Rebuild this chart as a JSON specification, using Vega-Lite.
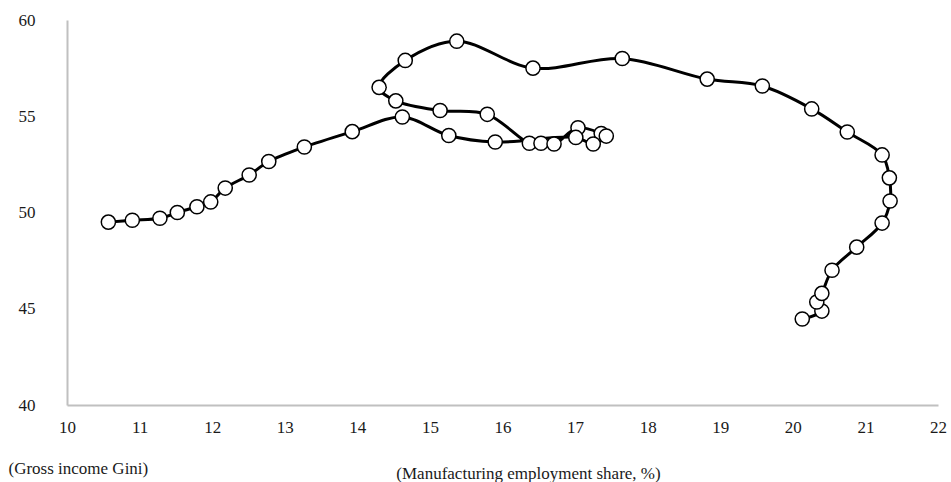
{
  "$schema": "https://vega.github.io/schema/vega-lite/v6.json",
  "autosize": "none",
  "width": 871,
  "height": 385,
  "padding": {"left": 67, "top": 20, "right": 13, "bottom": 77},
  "background": "white",
  "config": {"view": {"stroke": null}, "font": "Liberation Serif"},
  "data": {"values": [
    {"i": 1, "m": 20.13, "g": 44.47},
    {"i": 2, "m": 20.40, "g": 44.88},
    {"i": 3, "m": 20.33, "g": 45.35},
    {"i": 4, "m": 20.40, "g": 45.80},
    {"i": 5, "m": 20.54, "g": 47.00},
    {"i": 6, "m": 20.88, "g": 48.20},
    {"i": 7, "m": 21.23, "g": 49.45},
    {"i": 8, "m": 21.34, "g": 50.60},
    {"i": 9, "m": 21.33, "g": 51.80},
    {"i": 10, "m": 21.23, "g": 52.99},
    {"i": 11, "m": 20.75, "g": 54.18},
    {"i": 12, "m": 20.26, "g": 55.38},
    {"i": 13, "m": 19.58, "g": 56.57},
    {"i": 14, "m": 18.82, "g": 56.93},
    {"i": 15, "m": 17.65, "g": 58.00},
    {"i": 16, "m": 16.42, "g": 57.50},
    {"i": 17, "m": 15.37, "g": 58.90},
    {"i": 18, "m": 14.66, "g": 57.90},
    {"i": 19, "m": 14.30, "g": 56.50},
    {"i": 20, "m": 14.53, "g": 55.80},
    {"i": 21, "m": 15.14, "g": 55.30},
    {"i": 22, "m": 15.79, "g": 55.10},
    {"i": 23, "m": 16.37, "g": 53.60},
    {"i": 24, "m": 16.53, "g": 53.60},
    {"i": 25, "m": 16.71, "g": 53.56},
    {"i": 26, "m": 17.04, "g": 54.40},
    {"i": 27, "m": 17.36, "g": 54.10},
    {"i": 28, "m": 17.43, "g": 53.97},
    {"i": 29, "m": 17.25, "g": 53.56},
    {"i": 30, "m": 17.01, "g": 53.90},
    {"i": 31, "m": 15.90, "g": 53.66},
    {"i": 32, "m": 15.26, "g": 54.00},
    {"i": 33, "m": 14.62, "g": 54.96},
    {"i": 34, "m": 13.93, "g": 54.20},
    {"i": 35, "m": 13.27, "g": 53.40},
    {"i": 36, "m": 12.78, "g": 52.65},
    {"i": 37, "m": 12.51, "g": 51.95},
    {"i": 38, "m": 12.18, "g": 51.27},
    {"i": 39, "m": 11.98, "g": 50.55},
    {"i": 40, "m": 11.79, "g": 50.30},
    {"i": 41, "m": 11.52, "g": 50.00},
    {"i": 42, "m": 11.28, "g": 49.70},
    {"i": 43, "m": 10.90, "g": 49.60},
    {"i": 44, "m": 10.57, "g": 49.50}
  ]},
  "encoding": {
    "x": {
      "field": "m", "type": "quantitative",
      "scale": {"domain": [10, 22], "nice": false, "zero": false},
      "axis": {
        "values": [10, 11, 12, 13, 14, 15, 16, 17, 18, 19, 20, 21, 22],
        "grid": false, "ticks": false,
        "domainColor": "#c0c0c0", "domainWidth": 2,
        "labelFont": "Liberation Serif", "labelFontSize": 17, "labelColor": "#1a1a1a",
        "labelPadding": 14, "labelFlush": false,
        "title": "(Manufacturing employment share, %)",
        "titleFont": "Liberation Serif", "titleFontSize": 17, "titleFontWeight": "normal",
        "titleColor": "#1a1a1a",
        "titleX": 461, "titleY": 68, "titleBaseline": "middle", "titleAlign": "center"
      }
    },
    "y": {
      "field": "g", "type": "quantitative",
      "scale": {"domain": [40, 60], "nice": false, "zero": false},
      "axis": {
        "values": [40, 45, 50, 55, 60],
        "grid": false, "ticks": false,
        "domainColor": "#c0c0c0", "domainWidth": 2,
        "labelFont": "Liberation Serif", "labelFontSize": 17, "labelColor": "#1a1a1a",
        "labelPadding": 32, "labelFlush": false,
        "title": "(Gross income Gini)",
        "titleFont": "Liberation Serif", "titleFontSize": 17, "titleFontWeight": "normal",
        "titleColor": "#1a1a1a", "titleAngle": 0,
        "titleX": -59, "titleY": 448, "titleBaseline": "middle", "titleAlign": "left"
      }
    },
    "order": {"field": "i", "type": "quantitative"}
  },
  "layer": [
    {"mark": {"type": "line", "color": "black", "strokeWidth": 3, "interpolate": "catmull-rom"}},
    {"mark": {"type": "point", "shape": "circle", "filled": true, "fill": "white", "stroke": "black", "strokeWidth": 1.5, "size": 200, "opacity": 1}}
  ]
}
